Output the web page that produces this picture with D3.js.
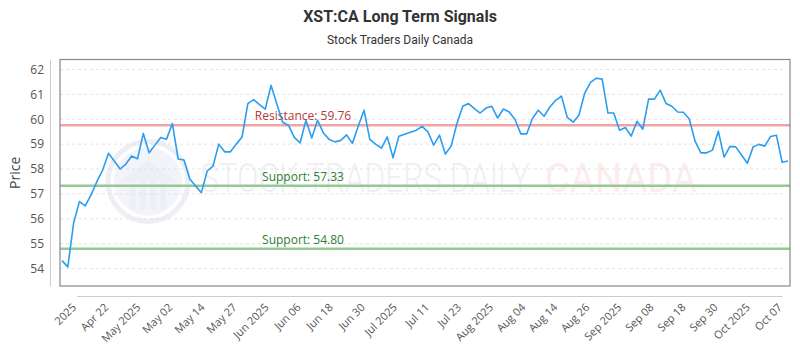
<!DOCTYPE html>
<html lang="en">
<head>
    <meta charset="UTF-8">
    <title>XST:CA Long Term Signals</title>
    <script src="https://cdn.jsdelivr.net/npm/d3@7"></script>
    <style>
        body { margin: 0; background: #fff; }
        text { font-family: "Open Sans", "DejaVu Sans", sans-serif; }
    </style>
</head>
<body>
    <svg width="800" height="350" id="mainsvg" style="display: block;"></svg>
    <script>
        // closing prices, one per trading day
        const prices = [
            54.32, 54.07, 55.83, 56.69, 56.52, 56.96, 57.49, 57.96, 58.63, 58.32,
            58.00, 58.20, 58.52, 58.41, 59.43, 58.65, 58.96, 59.27, 59.20, 59.83,
            58.40, 58.36, 57.60, 57.32, 57.05, 57.92, 58.12, 59.00, 58.69, 58.69,
            59.00, 59.29, 60.63, 60.79, 60.59, 60.41, 61.36, 60.60, 59.88, 59.75,
            59.27, 59.05, 59.96, 59.25, 59.96, 59.45, 59.19, 59.09, 59.15, 59.37,
            59.03, 59.72, 60.36, 59.19, 59.00, 58.84, 59.29, 58.45, 59.32, 59.40,
            59.48, 59.56, 59.71, 59.49, 58.96, 59.36, 58.60, 58.92, 59.83, 60.52,
            60.63, 60.43, 60.25, 60.45, 60.52, 60.05, 60.41, 60.29, 59.99, 59.41,
            59.41, 60.03, 60.36, 60.12, 60.49, 60.76, 60.93, 60.07, 59.88, 60.16,
            61.05, 61.48, 61.65, 61.61, 60.25, 60.25, 59.56, 59.67, 59.32, 59.92,
            59.60, 60.81, 60.81, 61.17, 60.63, 60.52, 60.29, 60.28, 60.01, 59.12,
            58.65, 58.65, 58.76, 59.52, 58.48, 58.91, 58.89, 58.56, 58.23, 58.89,
            58.99, 58.92, 59.31, 59.36, 58.27, 58.32
        ];
        const tickLabels = [
            "2025", "Apr 22", "May 2025", "May 02", "May 14", "May 27", "Jun 2025",
            "Jun 06", "Jun 18", "Jun 30", "Jul 2025", "Jul 11", "Jul 23", "Aug 2025",
            "Aug 04", "Aug 14", "Aug 26", "Sep 2025", "Sep 08", "Sep 18", "Sep 30",
            "Oct 2025", "Oct 07"
        ];
        // first / last labelled position, in trading-day index
        const tickStart = 2.5, tickEnd = 124;
        const yTicks = [54, 55, 56, 57, 58, 59, 60, 61, 62];
        const yDomain = [53.3, 62.4];
        const levels = [
            {name: "Resistance", value: 59.76, kind: "res"},
            {name: "Support", value: 57.33, kind: "sup"},
            {name: "Support", value: 54.80, kind: "sup"}
        ];

        const svg = d3.select("#mainsvg");
        const width = +svg.attr("width");
        const height = +svg.attr("height");
        const margin = {top: 59.5, right: 10, bottom: 64, left: 60};
        const plotW = width - margin.left - margin.right;
        const plotH = height - margin.top - margin.bottom;

        svg.append("text")
            .attr("x", width / 2).attr("y", 22)
            .attr("text-anchor", "middle")
            .style("font-family", "Roboto, sans-serif")
            .style("font-weight", "bold")
            .style("font-size", "16px")
            .attr("fill", "#333")
            .text("XST:CA Long Term Signals");

        svg.append("text")
            .attr("x", width / 2).attr("y", 44)
            .attr("text-anchor", "middle")
            .style("font-family", "Roboto, sans-serif")
            .style("font-size", "12px")
            .attr("fill", "#333")
            .text("Stock Traders Daily Canada");

        const g = svg.append("g")
            .attr("transform", `translate(${margin.left}, ${margin.top})`);

        const x = d3.scaleLinear().domain([0, prices.length - 1]).range([2, plotW - 2]);
        const y = d3.scaleLinear().domain(yDomain).range([plotH, 0]);

        // watermark
        const wm = g.append("g").attr("opacity", 0.1);
        wm.append("circle")
            .attr("cx", 88).attr("cy", 122).attr("r", 40)
            .attr("fill", "none").attr("stroke", "#5570a8").attr("stroke-width", 5);
        wm.append("circle")
            .attr("cx", 88).attr("cy", 122).attr("r", 34)
            .attr("fill", "#8aa0cc");
        wm.append("path")
            .attr("d", "M60,122 L88,100 L116,122 Z")
            .attr("fill", "#5570a8");
        [70, 80, 90, 100].forEach((bx, i) => {
            wm.append("rect")
                .attr("x", bx).attr("y", 124 - i * 3).attr("width", 6).attr("height", 26 + i * 3)
                .attr("fill", "#5570a8");
        });
        wm.append("text")
            .attr("x", 140).attr("y", 132)
            .attr("textLength", 330)
            .attr("lengthAdjust", "spacingAndGlyphs")
            .style("font-family", "Roboto, sans-serif")
            .style("font-size", "41px")
            .style("font-weight", "300")
            .attr("fill", "#5a6f9a")
            .text("STOCK TRADERS DAILY");
        wm.append("text")
            .attr("x", 485).attr("y", 132)
            .attr("textLength", 152)
            .attr("lengthAdjust", "spacingAndGlyphs")
            .style("font-family", "Roboto, sans-serif")
            .style("font-size", "41px")
            .attr("fill", "#e35050")
            .text("CANADA");

        // grid
        g.selectAll(".grid").data(yTicks).join("line")
            .attr("class", "grid")
            .attr("x1", 0).attr("x2", plotW - 4)
            .attr("y1", d => y(d)).attr("y2", d => y(d))
            .attr("stroke", "#e2e2e2")
            .attr("stroke-dasharray", "3,3");

        // support / resistance
        g.selectAll(".level").data(levels).join("line")
            .attr("class", "level")
            .attr("x1", 0).attr("x2", plotW)
            .attr("y1", d => y(d.value)).attr("y2", d => y(d.value))
            .attr("stroke", d => d.kind === "res" ? "#f2a3a3" : "#93c993")
            .attr("stroke-width", 2.5);

        g.selectAll(".level-label").data(levels).join("text")
            .attr("class", "level-label")
            .attr("x", 243)
            .attr("y", d => y(d.value) - 5)
            .attr("text-anchor", "middle")
            .style("font-size", "12px")
            .attr("fill", d => d.kind === "res" ? "#b33a3a" : "#2e7d32")
            .text(d => `${d.name}: ${d.value.toFixed(2)}`);

        // price line
        g.append("path")
            .datum(prices)
            .attr("fill", "none")
            .attr("stroke", "#2b9df0")
            .attr("stroke-width", 1.6)
            .attr("stroke-linejoin", "round")
            .attr("d", d3.line().x((d, i) => x(i)).y(d => y(d)));

        // frame
        g.append("rect")
            .attr("x", 0).attr("y", 0).attr("width", plotW).attr("height", plotH)
            .attr("fill", "none").attr("stroke", "#888").attr("stroke-width", 1.2);

        // y axis
        const yAxis = g.append("g")
            .attr("transform", "translate(-10, 0)")
            .call(d3.axisLeft(y).tickValues(yTicks).tickSize(0).tickPadding(6));
        yAxis.select(".domain").attr("stroke", "#ccc");
        yAxis.selectAll("text")
            .style("font-family", "Open Sans, sans-serif")
            .style("font-size", "12px")
            .attr("fill", "#555");

        svg.append("text")
            .attr("transform", `translate(20, ${margin.top + plotH / 2}) rotate(-90)`)
            .attr("text-anchor", "middle")
            .style("font-size", "14px")
            .attr("fill", "#444")
            .text("Price");

        // x axis
        const xt = d3.scalePoint().domain(tickLabels).range([x(tickStart), x(tickEnd)]);
        const xAxis = g.append("g")
            .attr("transform", `translate(0, ${plotH + 10})`)
            .call(d3.axisBottom(xt).tickSize(0).tickPadding(0));
        xAxis.select(".domain").attr("stroke", "#ccc");
        xAxis.selectAll("text")
            .style("font-family", "Open Sans, sans-serif")
            .style("font-size", "11px")
            .attr("fill", "#555")
            .attr("text-anchor", "end")
            .attr("dy", 0)
            .attr("transform", "translate(0, 12) rotate(-45)");
    </script>
</body>
</html>
